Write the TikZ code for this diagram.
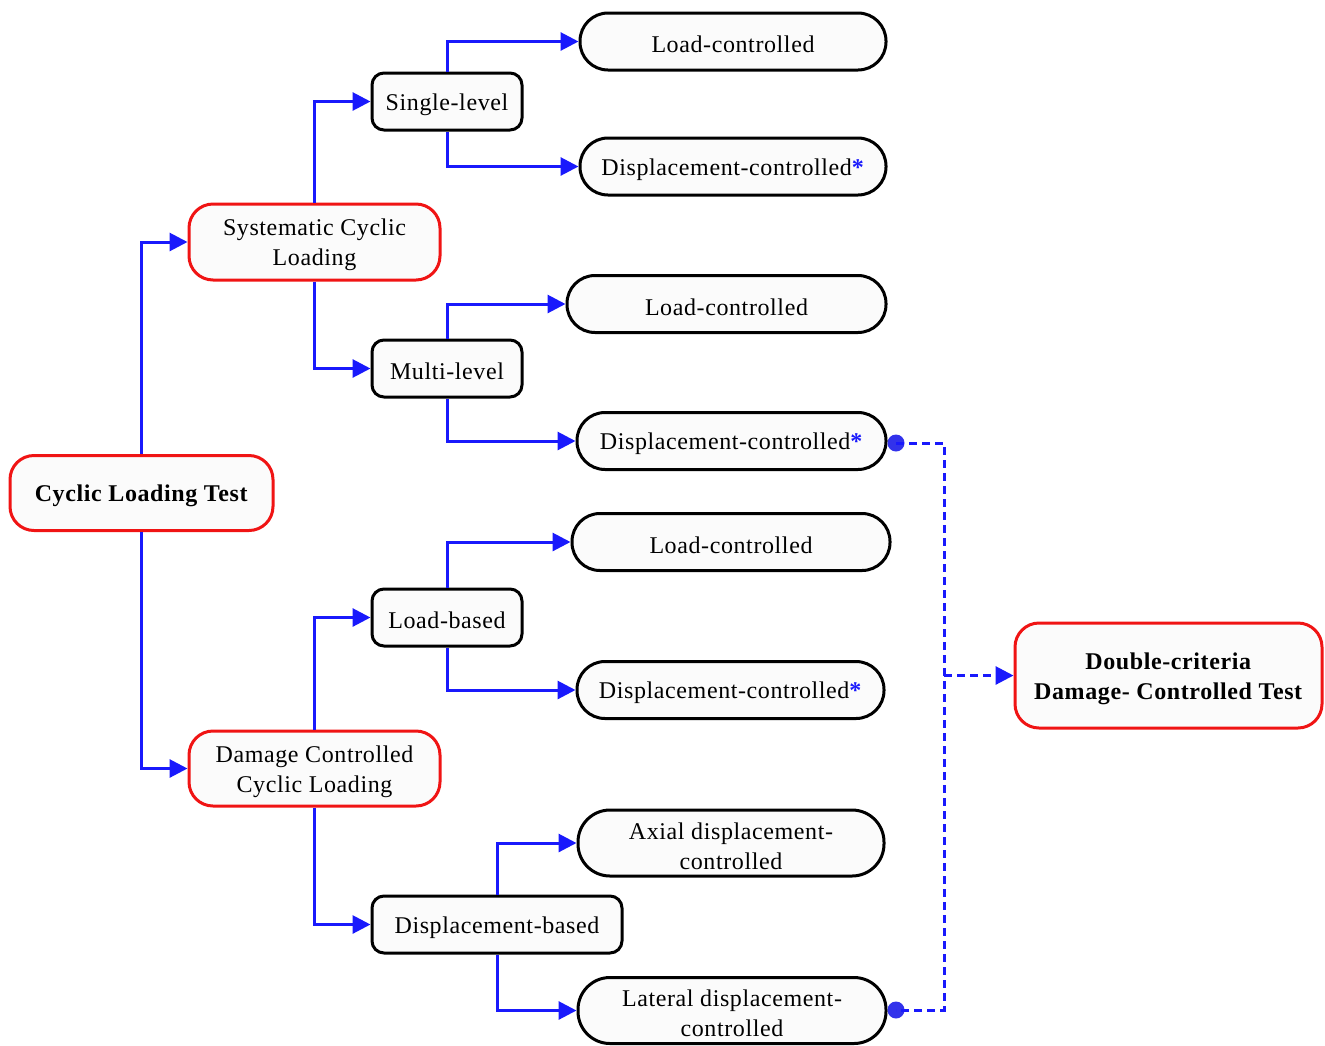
\documentclass[tikz,border=0pt]{standalone}
\usepackage{fontspec}
\setmainfont{Liberation Serif}[LetterSpace=2.5, BoldFont={Liberation Serif Bold}]
\usetikzlibrary{arrows.meta}
\definecolor{lineblue}{RGB}{25,25,252}
\definecolor{dotblue}{RGB}{50,50,235}
\definecolor{boxred}{RGB}{240,20,20}
\definecolor{boxfill}{RGB}{251,251,251}
\newcommand{\bluestar}{\textcolor{lineblue}{\textbf{*}}}
\begin{document}
\begin{tikzpicture}[x=1pt,y=-1pt,
  every node/.style={font=\rmfamily\fontsize{24}{30}\selectfont, align=center, inner sep=0pt},
  txt/.style={label={[yshift=-3pt]center:{#1}}},
  redbox/.style={draw=boxred, line width=3pt, fill=boxfill, rounded corners=24pt},
  smallbox/.style={draw=black, line width=3pt, fill=boxfill, rounded corners=12pt, minimum height=57pt},
  pill/.style={draw=black, line width=3pt, fill=boxfill, rounded corners=28pt, minimum height=57pt},
  pilltall/.style={draw=black, line width=3pt, fill=boxfill, rounded corners=32pt, minimum height=66pt},
  conn/.style={draw=lineblue, line width=3pt, -{Triangle[length=18pt,width=18pt]}},
  dconn/.style={draw=lineblue, line width=3pt, dash pattern=on 8pt off 5pt},
  dot/.style={circle, fill=dotblue, minimum size=17pt, inner sep=0pt}
]
\useasboundingbox (0,0) rectangle (1325,1045);

% main nodes
\node[redbox, minimum width=263pt, minimum height=75pt, txt={\textbf{Cyclic Loading Test}}] (root) at (141.5,493) {};
\node[redbox, minimum width=251pt, minimum height=76pt, txt={Systematic Cyclic\\Loading}] (sys) at (314.5,242) {};
\node[redbox, minimum width=251pt, minimum height=75pt, txt={Damage Controlled\\Cyclic Loading}] (dam) at (314.5,768.5) {};

\node[smallbox, minimum width=150pt, txt={Single-level}] (single) at (447,101.5) {};
\node[smallbox, minimum width=150pt, txt={Multi-level}] (multi) at (447,368.5) {};
\node[smallbox, minimum width=150pt, txt={Load-based}] (loadb) at (447,617.5) {};
\node[smallbox, minimum width=250pt, txt={Displacement-based}] (dispb) at (497,924.5) {};

\node[pill, minimum width=306pt, txt={Load-controlled}] (lc1) at (733,41.5) {};
\node[pill, minimum width=306pt, txt={Displacement-controlled\bluestar}] (dc1) at (733,166.5) {};
\node[pill, minimum width=319pt, txt={Load-controlled}] (lc2) at (726.5,304) {};
\node[pill, minimum width=309pt, txt={Displacement-controlled\bluestar}] (dc2) at (731.5,441) {};
\node[pill, minimum width=318pt, txt={Load-controlled}] (lc3) at (731,542) {};
\node[pill, minimum width=307pt, txt={Displacement-controlled\bluestar}] (dc3) at (730.5,690) {};
\node[pilltall, minimum width=306pt, txt={Axial displacement-\\controlled}] (axial) at (731,843) {};
\node[pilltall, minimum width=308pt, txt={Lateral displacement-\\controlled}] (lat) at (732,1010.5) {};

\node[redbox, minimum width=307pt, minimum height=105pt, txt={\textbf{Double-criteria}\\\textbf{Damage- Controlled Test}}] (dbl) at (1168.5,675.5) {};

% connectors
\draw[conn] (root.north) |- (sys.west);
\draw[conn] (root.south) |- (dam.west);
\draw[conn] (sys.north) |- (single.west);
\draw[conn] (sys.south) |- (multi.west);
\draw[conn] (dam.north) |- (loadb.west);
\draw[conn] (dam.south) |- (dispb.west);
\draw[conn] (single.north) |- (lc1.west);
\draw[conn] (single.south) |- (dc1.west);
\draw[conn] (multi.north) |- (lc2.west);
\draw[conn] (multi.south) |- (dc2.west);
\draw[conn] (loadb.north) |- (lc3.west);
\draw[conn] (loadb.south) |- (dc3.west);
\draw[conn] (dispb.north) |- (axial.west);
\draw[conn] (dispb.south) |- (lat.west);

% dashed connectors
\node[dot] (d1) at (896,443) {};
\node[dot] (d2) at (896,1010) {};
\coordinate (j1) at (944,443);
\coordinate (j2) at (944,1010);
\coordinate (jm) at (944,675.5);
\draw[dconn] (d1.center) -- (j1) -- (j2) -- (d2.center);
\draw[dconn, -{Triangle[length=18pt,width=18pt]}] (jm) -- (dbl.west);
\end{tikzpicture}
\end{document}
